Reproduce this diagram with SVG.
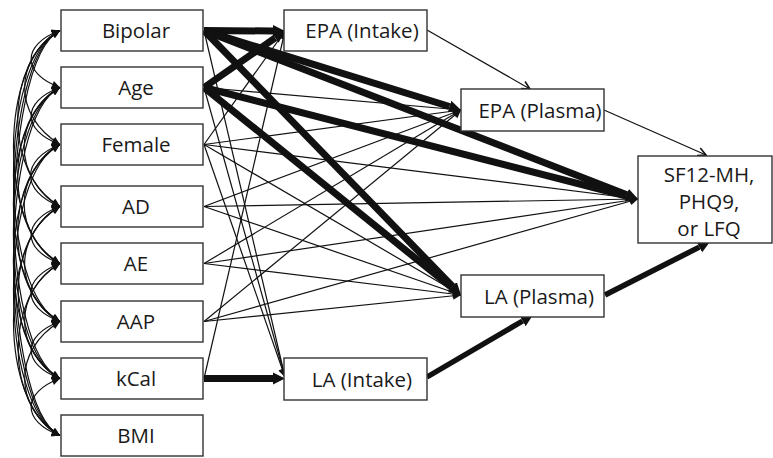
<svg xmlns="http://www.w3.org/2000/svg" width="773" height="458" viewBox="0 0 773 458">
<style>
.box{fill:#fff;stroke:#333;stroke-width:1.4}
.lbl{font-family:"Open Sans","Noto Sans",sans-serif;font-size:20.5px;fill:#1a1a1a;text-anchor:middle}
.arc{fill:none;stroke:#111;stroke-width:1.2}
.thin{fill:none;stroke:#111;stroke-width:1.2}
.thick{fill:none;stroke:#111;stroke-width:7}
.mid{fill:none;stroke:#111;stroke-width:5.5}
</style>
<defs>
<marker id="ah" viewBox="0 0 10 10" refX="10" refY="5" markerWidth="10" markerHeight="8" markerUnits="userSpaceOnUse" orient="auto-start-reverse"><path d="M0,0 L10,5 L0,10 z" fill="#111"/></marker>
<marker id="ahT" viewBox="0 0 10 10" refX="0" refY="5" markerWidth="12" markerHeight="15" markerUnits="userSpaceOnUse" orient="auto"><path d="M0,0 L10,5 L0,10 z" fill="#111"/></marker>
<marker id="ahV" viewBox="0 0 10 10" refX="9" refY="5" markerWidth="10" markerHeight="10" markerUnits="userSpaceOnUse" orient="auto"><path d="M1,1 L9,5 L1,9" fill="none" stroke="#111" stroke-width="1.6"/></marker>
</defs>
<g id="connectors">
<g id="covariances" marker-start="url(#ah)" marker-end="url(#ah)">
<path class="arc" d="M60,30.5 C21.5,44.5 21.5,73.5 60,87.5"/>
<path class="arc" d="M60,30.5 C12.9,59 12.9,116 60,144.5"/>
<path class="arc" d="M60,30.5 C3.6,60.5 3.6,176.5 60,206.5"/>
<path class="arc" d="M60,30.5 C-2,60.5 -2,233.5 60,263.5"/>
<path class="arc" d="M60,30.5 C-2,60.5 -2,291.5 60,321.5"/>
<path class="arc" d="M60,30.5 C-2,60.5 -2,348.5 60,378.5"/>
<path class="arc" d="M60,30.5 C-2,60.5 -2,405.5 60,435.5"/>
<path class="arc" d="M60,87.5 C21.5,101.5 21.5,130.5 60,144.5"/>
<path class="arc" d="M60,87.5 C12.2,117.5 12.2,176.5 60,206.5"/>
<path class="arc" d="M60,87.5 C3.6,117.5 3.6,233.5 60,263.5"/>
<path class="arc" d="M60,87.5 C-2,117.5 -2,291.5 60,321.5"/>
<path class="arc" d="M60,87.5 C-2,117.5 -2,348.5 60,378.5"/>
<path class="arc" d="M60,87.5 C-2,117.5 -2,405.5 60,435.5"/>
<path class="arc" d="M60,144.5 C20.7,160 20.7,191 60,206.5"/>
<path class="arc" d="M60,144.5 C12.2,174.5 12.2,233.5 60,263.5"/>
<path class="arc" d="M60,144.5 C3.5,174.5 3.5,291.5 60,321.5"/>
<path class="arc" d="M60,144.5 C-2,174.5 -2,348.5 60,378.5"/>
<path class="arc" d="M60,144.5 C-2,174.5 -2,405.5 60,435.5"/>
<path class="arc" d="M60,206.5 C21.5,220.5 21.5,249.5 60,263.5"/>
<path class="arc" d="M60,206.5 C12.8,235.5 12.8,292.5 60,321.5"/>
<path class="arc" d="M60,206.5 C4.2,236.5 4.2,348.5 60,378.5"/>
<path class="arc" d="M60,206.5 C-2,236.5 -2,405.5 60,435.5"/>
<path class="arc" d="M60,263.5 C21.3,278 21.3,307 60,321.5"/>
<path class="arc" d="M60,263.5 C12.8,292.5 12.8,349.5 60,378.5"/>
<path class="arc" d="M60,263.5 C4.2,293.5 4.2,405.5 60,435.5"/>
<path class="arc" d="M60,321.5 C21.5,335.5 21.5,364.5 60,378.5"/>
<path class="arc" d="M60,321.5 C12.9,350 12.9,407 60,435.5"/>
<path class="arc" d="M60,378.5 C21.5,392.5 21.5,421.5 60,435.5"/>
</g>
<g id="thin-paths" marker-end="url(#ah)">
<path class="thin" d="M204,30.5 L285,377"/>
<path class="thin" d="M204,87.5 L461,110"/>
<path class="thin" d="M204,87.5 L285,377"/>
<path class="thin" d="M204,144.5 L285,31"/>
<path class="thin" d="M204,144.5 L461,110"/>
<path class="thin" d="M204,144.5 L638,199"/>
<path class="thin" d="M204,144.5 L461,295"/>
<path class="thin" d="M204,144.5 L285,377"/>
<path class="thin" d="M204,206.5 L461,110"/>
<path class="thin" d="M204,206.5 L638,199"/>
<path class="thin" d="M204,206.5 L461,295"/>
<path class="thin" d="M204,263.5 L461,110"/>
<path class="thin" d="M204,263.5 L638,199"/>
<path class="thin" d="M204,263.5 L461,295"/>
<path class="thin" d="M204,321.5 L461,110"/>
<path class="thin" d="M204,321.5 L638,199"/>
<path class="thin" d="M204,321.5 L461,295"/>
<path class="thin" d="M204,378.5 L285,31"/>
</g>
<g id="chain-thin" marker-end="url(#ahV)">
<path class="thin" d="M427,30 L530,89"/>
<path class="thin" d="M604,110 L706,155"/>
</g>
<g id="thick-paths" marker-end="url(#ahT)">
<path class="thick" d="M204,30.5 L273,31"/>
<path class="thick" d="M204,30.5 L449.5,106.5"/>
<path class="thick" d="M204,30.5 L626.8,194.7"/>
<path class="thick" d="M204,30.5 L452.6,286.4"/>
<path class="thick" d="M204,87.5 L275.2,37.9"/>
<path class="thick" d="M204,87.5 L626.4,196"/>
<path class="thick" d="M204,87.5 L451.7,287.5"/>
<path class="thick" d="M204,378.5 L273,378.5"/>
<path class="mid" d="M427,377 L522.6,321"/>
<path class="mid" d="M605,295 L699.3,247.1"/>
</g>
</g>
<g id="bipolar"><rect class="box" x="61" y="10" width="142" height="41"/><text class="lbl" x="136" y="38">Bipolar</text></g>
<g id="age"><rect class="box" x="61" y="67" width="142" height="41"/><text class="lbl" x="136" y="95">Age</text></g>
<g id="female"><rect class="box" x="61" y="124" width="142" height="41"/><text class="lbl" x="136" y="152">Female</text></g>
<g id="ad"><rect class="box" x="61" y="186" width="142" height="41"/><text class="lbl" x="136" y="214">AD</text></g>
<g id="ae"><rect class="box" x="61" y="243" width="142" height="41"/><text class="lbl" x="136" y="271">AE</text></g>
<g id="aap"><rect class="box" x="61" y="301" width="142" height="41"/><text class="lbl" x="136" y="329">AAP</text></g>
<g id="kcal"><rect class="box" x="61" y="358" width="142" height="41"/><text class="lbl" x="136" y="386">kCal</text></g>
<g id="bmi"><rect class="box" x="61" y="415" width="142" height="41"/><text class="lbl" x="136" y="443">BMI</text></g>
<g id="epa-intake"><rect class="box" x="284" y="10" width="143" height="41"/><text class="lbl" x="362" y="38">EPA (Intake)</text></g>
<g id="epa-plasma"><rect class="box" x="461" y="89" width="143" height="42"/><text class="lbl" x="540" y="118">EPA (Plasma)</text></g>
<g id="outcome"><rect class="box" x="638" y="156" width="134" height="87"/><text class="lbl" x="709" y="182">SF12-MH,</text><text class="lbl" x="709" y="209">PHQ9,</text><text class="lbl" x="709" y="236">or LFQ</text></g>
<g id="la-plasma"><rect class="box" x="461" y="275" width="143" height="42"/><text class="lbl" x="539" y="304">LA (Plasma)</text></g>
<g id="la-intake"><rect class="box" x="284" y="358" width="143" height="42"/><text class="lbl" x="362" y="387">LA (Intake)</text></g>
</svg>
